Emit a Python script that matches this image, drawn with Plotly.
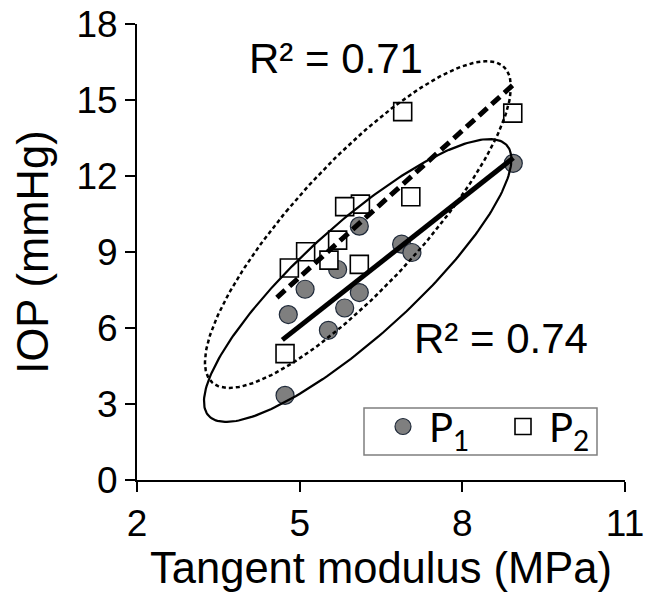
import numpy as np
import plotly.graph_objects as go

# ---- data ----
p1_x = [8.94, 6.10, 6.88, 7.07, 5.70, 5.10, 6.10, 4.79, 5.83, 5.53, 4.73]
p1_y = [12.50, 10.02, 9.31, 8.98, 8.31, 7.53, 7.40, 6.53, 6.79, 5.91, 3.34]
p2_x = [6.90, 8.93, 7.05, 6.12, 5.83, 5.70, 5.11, 5.54, 6.10, 4.81, 4.73]
p2_y = [14.54, 14.48, 11.18, 10.89, 10.79, 9.47, 9.01, 8.68, 8.51, 8.37, 4.99]
fit_range_p1 = [4.68, 8.94]
fit_range_p2 = [4.58, 8.97]
r2_text_p1 = "R² = 0.74"
r2_text_p2 = "R² = 0.71"
r2_pos_p1 = [7.07, 5.57]
r2_pos_p2 = [4.03, 16.64]
x_ticks = [2, 5, 8, 11]
y_ticks = [0, 3, 6, 9, 12, 15, 18]
series_names = ["P<sub>1</sub>", "P<sub>2</sub>"]

FONT = "Liberation Sans, Arial, sans-serif"


def fit_line(x, y, xr):
    slope, intercept = np.polyfit(x, y, 1)
    xs = np.array(xr)
    return xs, slope * xs + intercept


def conf_ellipse(x, y, chi2=5.991, n=240):
    x = np.asarray(x)
    y = np.asarray(y)
    cov = np.cov(x, y, bias=True)
    vals, vecs = np.linalg.eigh(cov)
    t = np.linspace(0, 2 * np.pi, n)
    circ = np.vstack([np.cos(t), np.sin(t)])
    pts = vecs @ (np.sqrt(vals * chi2)[:, None] * circ)
    return x.mean() + pts[0], y.mean() + pts[1]


fig = go.Figure()

fig.add_trace(go.Scatter(
    x=p1_x, y=p1_y, mode="markers", name=series_names[0],
    marker=dict(symbol="circle", size=18, color="#7f7f7f",
                line=dict(color="#1f2a3a", width=1.2)),
))
fig.add_trace(go.Scatter(
    x=p2_x, y=p2_y, mode="markers", name=series_names[1],
    marker=dict(symbol="square", size=18, color="white",
                line=dict(color="black", width=1.6)),
))

# confidence ellipses
ex1, ey1 = conf_ellipse(p1_x, p1_y)
ex2, ey2 = conf_ellipse(p2_x, p2_y)
fig.add_trace(go.Scatter(x=ex1, y=ey1, mode="lines", showlegend=False,
                         line=dict(color="black", width=2.2), hoverinfo="skip"))
fig.add_trace(go.Scatter(x=ex2, y=ey2, mode="lines", showlegend=False,
                         line=dict(color="black", width=2.5, dash="4px,3px"),
                         hoverinfo="skip"))

# trend lines
fx1, fy1 = fit_line(p1_x, p1_y, fit_range_p1)
fx2, fy2 = fit_line(p2_x, p2_y, fit_range_p2)
fig.add_trace(go.Scatter(x=fx1, y=fy1, mode="lines", showlegend=False,
                         line=dict(color="black", width=5), hoverinfo="skip"))
fig.add_trace(go.Scatter(x=fx2, y=fy2, mode="lines", showlegend=False,
                         line=dict(color="black", width=5, dash="11px,6px"),
                         hoverinfo="skip"))

fig.add_annotation(x=r2_pos_p2[0], y=r2_pos_p2[1], text=r2_text_p2,
                   xref="x", yref="y", xanchor="left", yanchor="middle",
                   showarrow=False, font=dict(family=FONT, size=42, color="black"))
fig.add_annotation(x=r2_pos_p1[0], y=r2_pos_p1[1], text=r2_text_p1,
                   xref="x", yref="y", xanchor="left", yanchor="middle",
                   showarrow=False, font=dict(family=FONT, size=42, color="black"))

axis_common = dict(
    showline=True, linecolor="black", linewidth=2,
    ticks="outside", ticklen=10, tickwidth=2, tickcolor="black",
    showgrid=False, zeroline=False, mirror=False, automargin=False,
    tickfont=dict(family=FONT, size=37, color="black"),
)

fig.update_xaxes(range=[2, 11], tickvals=x_ticks, ticktext=[str(v) for v in x_ticks],
                 title=dict(text="Tangent modulus (MPa)", standoff=8,
                            font=dict(family=FONT, size=43.5, color="black")),
                 **axis_common)
fig.update_yaxes(range=[0, 18], tickvals=y_ticks, ticktext=[str(v) for v in y_ticks],
                 title=dict(text="IOP (mmHg)", standoff=14,
                            font=dict(family=FONT, size=43.5, color="black")),
                 **axis_common)

# legend frame
fig.add_shape(type="rect", xref="paper", yref="paper",
              x0=(364 - 137) / 488, x1=(597 - 137) / 488,
              y0=(480 - 455) / 456, y1=(480 - 408) / 456,
              line=dict(color="#7f7f7f", width=1.5), fillcolor="rgba(0,0,0,0)",
              layer="above")

fig.update_layout(
    width=647, height=592,
    margin=dict(l=137, r=22, t=24, b=112, autoexpand=False),
    plot_bgcolor="white", paper_bgcolor="white",
    showlegend=True,
    legend=dict(
        orientation="h", x=(377 - 137) / 488, y=(480 - 394) / 456,
        xanchor="left", yanchor="top",
        borderwidth=0, bgcolor="rgba(0,0,0,0)",
        font=dict(family="Lato, Open Sans, sans-serif", size=40, color="black"),
        entrywidth=63, itemwidth=42, itemsizing="trace",
    ),
)

fig.write_html("out.html")
